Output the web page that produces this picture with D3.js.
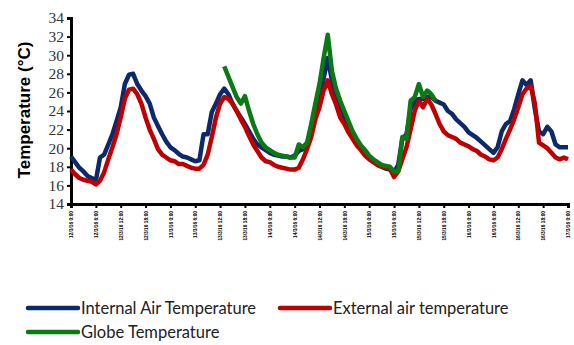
<!DOCTYPE html>
<html>
<head>
<meta charset="utf-8">
<script src="https://cdn.jsdelivr.net/npm/d3@7"></script>
<style>
  body { margin: 0; background: #fff; }
  svg { display: block; }
</style>
</head>
<body>
<div id="chart"></div>
<script>
// hourly readings over five days (index = hour)
const internalAir = [
  19.1, 18.5, 17.9, 17.5, 17.0, 16.8, 16.5, 19.0, 19.3, 20.4, 21.5, 22.9, 24.4, 26.9, 27.9, 28.0, 26.9, 26.2, 25.6, 24.8, 23.3, 22.4, 21.5, 20.7,
  20.1, 19.8, 19.4, 19.1, 19.0, 18.8, 18.6, 18.7, 21.5, 21.5, 23.9, 24.8, 25.8, 26.4, 25.8, 24.8, 24.0, 23.3, 22.6, 21.8, 21.0, 20.4, 20.1, 19.8,
  19.5, 19.3, 19.2, 19.1, 19.1, 19.0, 19.2, 19.7, 19.9, 20.4, 22.0, 24.0, 25.5, 27.5, 29.7, 27.3, 25.5, 24.4, 23.3, 22.5, 21.6, 20.7, 20.0, 19.3,
  18.9, 18.6, 18.2, 18.0, 17.8, 17.7, 17.4, 18.2, 21.0, 21.5, 24.2, 25.0, 25.3, 25.3, 25.5, 25.5, 25.1, 24.9, 24.7, 24.0, 23.7, 23.1, 22.7, 22.3,
  21.7, 21.4, 21.1, 20.7, 20.3, 19.9, 19.5, 20.1, 21.8, 22.6, 22.9, 24.2, 25.8, 27.3, 26.8, 27.3, 24.2, 21.8, 21.5, 22.3, 21.8, 20.4, 20.1, 20.1,
  20.1
];
const externalAir = [
  17.7, 17.2, 16.8, 16.6, 16.5, 16.4, 16.1, 16.5, 17.4, 18.8, 20.1, 21.5, 23.3, 25.3, 26.3, 26.4, 25.8, 24.8, 23.3, 22.0, 21.0, 19.9, 19.3, 19.0,
  18.7, 18.6, 18.3, 18.3, 18.1, 17.9, 17.8, 17.8, 18.2, 19.3, 21.2, 23.3, 24.8, 25.5, 25.3, 24.8, 24.0, 23.1, 22.3, 21.3, 20.4, 19.7, 19.0, 18.6,
  18.5, 18.2, 18.0, 17.9, 17.8, 17.7, 17.7, 17.9, 18.8, 19.9, 21.2, 23.1, 24.4, 26.2, 27.3, 25.8, 24.7, 23.3, 22.6, 21.7, 21.0, 20.3, 19.8, 19.2,
  18.8, 18.5, 18.2, 18.0, 17.9, 17.8, 16.9, 17.5, 18.8, 20.1, 22.0, 24.0, 25.1, 24.4, 25.3, 24.7, 23.7, 22.6, 21.8, 21.4, 21.2, 21.0, 20.6, 20.4,
  20.2, 19.9, 19.7, 19.3, 19.1, 18.8, 18.7, 19.0, 19.9, 21.0, 22.0, 23.1, 24.4, 25.8, 26.4, 26.7, 24.8, 20.6, 20.3, 20.0, 19.5, 19.0, 18.8, 19.0,
  18.8
];
// globe sensor only logged from hour 37 to hour 88
const globeStart = 37;
const globeTemp = [
  28.8, 27.7, 26.6, 25.5, 24.8, 25.6, 24.0, 22.6, 21.5, 20.6, 20.1,
  19.8, 19.5, 19.3, 19.2, 19.1, 19.0, 19.0, 20.4, 20.1, 20.6, 22.6, 24.8, 26.9, 29.7, 32.2, 28.3, 26.4, 25.1, 24.0, 22.9, 21.8, 21.0, 20.3, 19.8,
  19.2, 18.8, 18.5, 18.2, 18.1, 18.0, 17.5, 17.5, 21.2, 21.0, 25.1, 25.5, 26.9, 25.5, 26.2, 25.8, 25.1
];
const yTicks = [14, 16, 18, 20, 22, 24, 26, 28, 30, 32, 34];
const dayLabels = ['12/3/16', '13/3/16', '14/3/16', '15/3/16', '16/3/16', '17/3/16'];
const hourLabels = ['0:00', '6:00', '12:00', '18:00'];
const seriesNames = ['Internal Air Temperature', 'External air temperature', 'Globe Temperature'];
const seriesColors = ['#0c2a6b', '#c00000', '#0a7a14'];

const W = 574, H = 345;
const svg = d3.select('#chart').append('svg')
  .attr('width', W).attr('height', H);

const x = d3.scaleLinear().domain([0, 120]).range([71, 568]);
const y = d3.scaleLinear().domain([14, 34]).range([204, 18]);

// tick labels every 6 hours
const tickHours = d3.range(0, 121, 6);
const tickText = h => {
  const d = Math.floor(h / 24);
  return dayLabels[d] + ' ' + hourLabels[(h % 24) / 6];
};

const yAxis = d3.axisLeft(y).tickValues(yTicks).tickSize(4).tickPadding(3);
const gy = svg.append('g').attr('transform', 'translate(71,0)').call(yAxis);
gy.select('.domain').attr('stroke', '#000').attr('stroke-width', 3);
gy.selectAll('.tick line').attr('stroke', '#000').attr('stroke-width', 2);
gy.selectAll('.tick text')
  .attr('font-family', '"Liberation Serif", "Times New Roman", serif')
  .attr('font-size', 15.5).attr('fill', '#333');

const xAxis = d3.axisBottom(x).tickValues(tickHours).tickSize(4).tickFormat(tickText);
const gx = svg.append('g').attr('transform', 'translate(0,204)').call(xAxis);
gx.select('.domain').attr('stroke', '#000').attr('stroke-width', 3);
gx.selectAll('.tick line').attr('stroke', '#000').attr('stroke-width', 2);
gx.selectAll('.tick text')
  .attr('font-family', '"Liberation Sans", Arial, sans-serif')
  .attr('font-size', 4.8).attr('font-weight', 'bold').attr('fill', '#000')
  .attr('text-anchor', 'end')
  .attr('dy', '0.35em')
  .attr('transform', 'translate(0,3) rotate(-90)')
  .attr('x', -4).attr('y', 0);

svg.append('text')
  .attr('transform', 'translate(30,110) rotate(-90)')
  .attr('text-anchor', 'middle')
  .attr('font-family', '"Liberation Sans", Arial, sans-serif')
  .attr('font-weight', 'bold').attr('font-size', 17)
  .text('Temperature (°C)');

const line = d3.line()
  .defined(d => d.v != null)
  .x(d => x(d.h))
  .y(d => y(d.v));

const toPts = (arr, start) => arr.map((v, i) => ({ h: i + start, v: v }));

const plot = svg.append('g');
plot.append('path').datum(toPts(internalAir, 0))
  .attr('fill', 'none').attr('stroke', seriesColors[0]).attr('stroke-width', 4.5)
  .attr('stroke-linejoin', 'round').attr('d', line);
plot.append('path').datum(toPts(externalAir, 0))
  .attr('fill', 'none').attr('stroke', seriesColors[1]).attr('stroke-width', 4.5)
  .attr('stroke-linejoin', 'round').attr('d', line);
plot.append('path').datum(toPts(globeTemp, globeStart))
  .attr('fill', 'none').attr('stroke', seriesColors[2]).attr('stroke-width', 4.5)
  .attr('stroke-linejoin', 'round').attr('d', line);

// legend
const legendPos = [[28, 308], [280, 308], [28, 332]];
const lg = svg.append('g');
seriesNames.forEach((name, i) => {
  const [lx, ly] = legendPos[i];
  lg.append('line')
    .attr('x1', lx).attr('x2', lx + 50).attr('y1', ly).attr('y2', ly)
    .attr('stroke', seriesColors[i]).attr('stroke-width', 4.5).attr('stroke-linecap', 'round');
  lg.append('text')
    .attr('x', lx + 53).attr('y', ly).attr('dy', '0.35em')
    .attr('font-family', 'Lato, "Open Sans", sans-serif')
    .attr('font-size', 16.5).attr('fill', '#222')
    .text(name);
});
</script>
</body>
</html>
